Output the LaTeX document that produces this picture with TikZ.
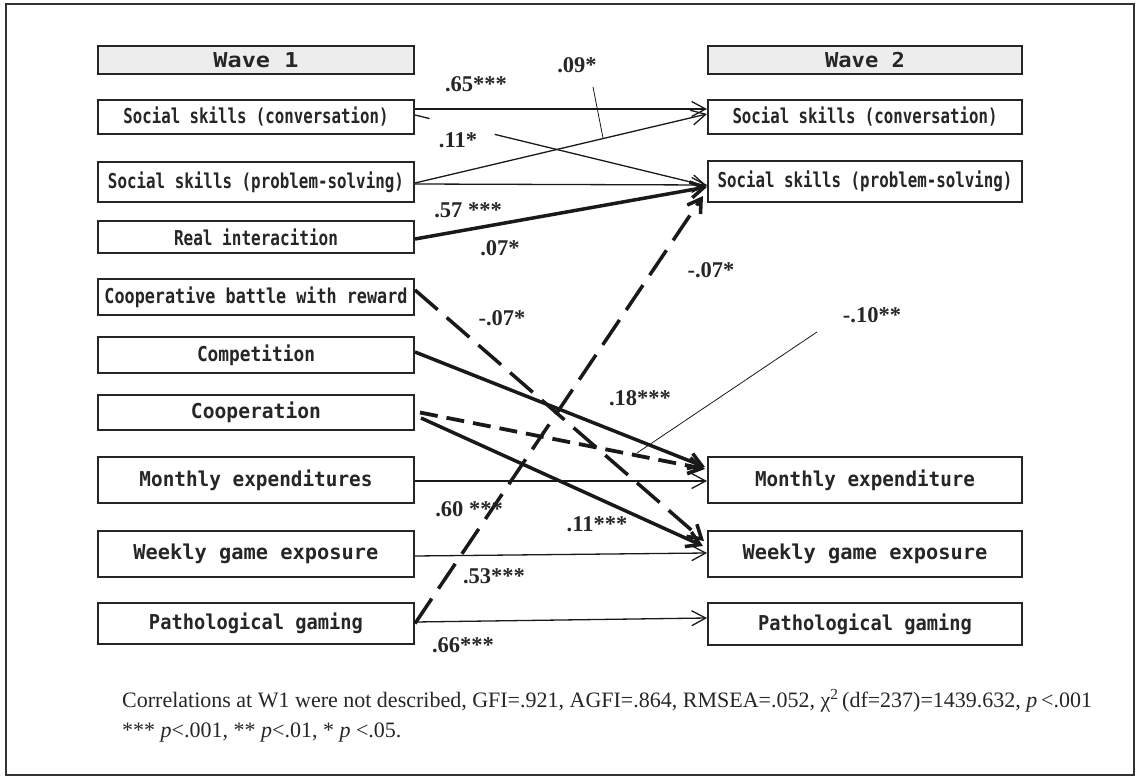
\documentclass[tikz,border=0pt]{standalone}
\usepackage{fontspec}
\usepackage{graphicx}
\setmainfont{Liberation Serif}
\newfontfamily\boxfont{DejaVu Sans Mono}
\usetikzlibrary{arrows.meta}
\tikzset{
  box/.style={draw=black!85, line width=2pt, minimum width=316pt, inner sep=0pt,
    font=\boxfont\bfseries\fontsize{20.5}{22}\selectfont, text=black!85},
  hdr/.style={box, fill=black!7, minimum height=28pt},
  lab/.style={font=\bfseries\fontsize{22.5}{24}\selectfont, inner sep=0pt, text=black!85},
  thinarr/.style={draw=black!90, line width=1.3pt, -{Straight Barb[length=14pt,width=15pt]}},
  thickarr/.style={draw=black!90, line width=3.5pt, -{Straight Barb[length=13pt,width=16pt]}},
  longdash/.style={thickarr, dash pattern=on 30pt off 12pt},
  shortdash/.style={thickarr, line width=3.8pt, dash pattern=on 18pt off 9pt},
  leader/.style={draw=black!90, line width=0.8pt},
  note/.style={anchor=base west, inner sep=0pt, font=\fontsize{22}{24}\selectfont, text=black!85}
}
\begin{document}
\begin{tikzpicture}[x=1pt,y=-1pt]
\useasboundingbox (0,0) rectangle (1136,778);
\draw[line width=1.5pt, black!80] (6,4) rectangle (1134,775);

% left column
\node[hdr] (w1) at (256,60) {\resizebox{85pt}{\height}{Wave 1}};
\node[box, minimum height=34pt] (sscL) at (256,117) {\resizebox{265pt}{\height}{Social skills (conversation)}};
\node[box, minimum height=40pt] (sspL) at (256,182) {\resizebox{296pt}{\height}{Social skills (problem-solving)}};
\node[box, minimum height=32pt] (realL) at (256,237) {\resizebox{164pt}{\height}{Real interacition}};
\node[box, minimum height=36pt] (cbL) at (256,297) {\resizebox{303pt}{\height}{Cooperative battle with reward}};
\node[box, minimum height=36pt] (compL) at (256,355) {\resizebox{118pt}{\height}{Competition}};
\node[box, minimum height=35pt] (coopL) at (256,412.5) {\resizebox{130pt}{\height}{Cooperation}};
\node[box, minimum height=46pt] (meL) at (256,480) {\resizebox{233pt}{\height}{Monthly expenditures}};
\node[box, minimum height=46pt] (wgeL) at (256,554) {\resizebox{245pt}{\height}{Weekly game exposure}};
\node[box, minimum height=41pt] (pgL) at (256,623.5) {\resizebox{214pt}{\height}{Pathological gaming}};

% right column
\node[hdr, minimum width=314pt] (w2) at (865,60) {\resizebox{80pt}{\height}{Wave 2}};
\node[box, minimum width=314pt, minimum height=34pt] (sscR) at (865,117) {\resizebox{265pt}{\height}{Social skills (conversation)}};
\node[box, minimum width=314pt, minimum height=41pt] (sspR) at (865,181.5) {\resizebox{295pt}{\height}{Social skills (problem-solving)}};
\node[box, minimum width=314pt, minimum height=46pt] (meR) at (865,480) {\resizebox{220pt}{\height}{Monthly expenditure}};
\node[box, minimum width=314pt, minimum height=46pt] (wgeR) at (865,554) {\resizebox{245pt}{\height}{Weekly game exposure}};
\node[box, minimum width=314pt, minimum height=42pt] (pgR) at (865,624) {\resizebox{214pt}{\height}{Pathological gaming}};

% paths
\draw[thinarr] ([yshift=8pt]sscL.east) -- ([yshift=8pt]sscR.west);
\draw[thinarr, dash pattern=on 15pt off 67pt on 400pt] ([yshift=2pt]sscL.east) -- ([yshift=-4.5pt]sspR.west);
\draw[thinarr] ([yshift=-1pt]sspL.east) -- ([yshift=3pt]sscR.west);
\draw[thinarr] ([yshift=-2pt]sspL.east) -- ([yshift=-3.5pt]sspR.west);
\draw[thickarr] ([yshift=-2pt]realL.east) -- ([yshift=-5.5pt]sspR.west);
\draw[longdash] ([yshift=0pt]pgL.east) -- ([xshift=-4pt,yshift=-14.5pt]sspR.west);
\draw[longdash] ([yshift=7pt]cbL.east) -- ([xshift=-3pt,yshift=13pt]wgeR.west);
\draw[thickarr] ([yshift=3pt]compL.east) -- ([xshift=-2pt,yshift=13pt]meR.west);
\draw[shortdash] ([xshift=5pt]coopL.east) -- ([xshift=-2pt,yshift=11pt]meR.west);
\draw[thickarr] ([xshift=6pt,yshift=-5.5pt]coopL.east) -- ([xshift=-4pt,yshift=8pt]wgeR.west);
\draw[thinarr] ([yshift=-1pt]meL.east) -- ([yshift=-1pt]meR.west);
\draw[thinarr] ([yshift=-2pt]wgeL.east) -- ([yshift=1pt]wgeR.west);
\draw[thinarr] ([yshift=1.5pt]pgL.east) -- ([yshift=6pt]pgR.west);

% labels
\node[lab] (l65) at (476,84) {.65***};
\node[lab] (l09) at (577,65) {.09*};
\node[lab] (l11a) at (458,140) {.11*};
\node[lab] (l57) at (468,210) {.57 ***};
\node[lab] (l07a) at (500,248) {.07*};
\node[lab] (l07b) at (711,270) {-.07*};
\node[lab] (l07c) at (502,318) {-.07*};
\node[lab] (l10) at (872,315) {-.10**};
\node[lab] (l18) at (640,398) {.18***};
\node[lab] (l60) at (469,509) {.60 ***};
\node[lab] (l11b) at (597,524) {.11***};
\node[lab] (l53) at (494,576) {.53***};
\node[lab] (l66) at (463,645) {.66***};

% leaders
\coordinate (s09) at (593,87);
\coordinate (e09) at (603,138);
\draw[leader] (s09) -- (e09);
\coordinate (s10) at (817,332);
\coordinate (e10) at (637,453);
\draw[leader] (s10) -- (e10);

% note
\node[note] (note1) at (122,707)
  {Correlations at W1 were not described, GFI=.921, AGFI=.864, RMSEA=.052, χ\textsuperscript{2}\,(df=237)=1439.632, \textit{p}\,<.001};
\node[note] (note2) at (122,737)
  {*** \textit{p}<.001, ** \textit{p}<.01, * \textit{p} <.05.};
\end{tikzpicture}
\end{document}
